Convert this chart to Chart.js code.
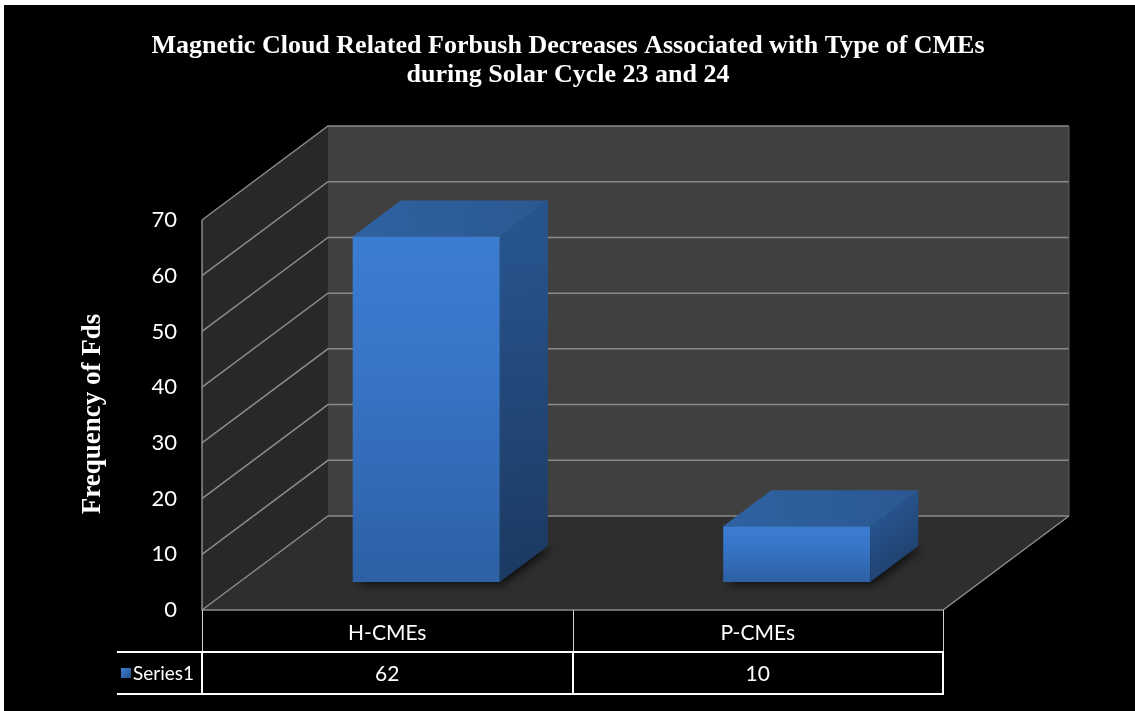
<!DOCTYPE html>
<html>
<head>
<meta charset="utf-8">
<script src="https://cdn.jsdelivr.net/npm/chart.js@4.4.1/dist/chart.umd.min.js"></script>
<style>
  html, body { margin: 0; padding: 0; background: #ffffff; }
  #wrap { width: 1135px; height: 711px; position: relative; }
</style>
</head>
<body>
<div id="wrap"><canvas id="c" width="1135" height="711"></canvas></div>
<script>
// ---- data ----
const categories = ['H-CMEs', 'P-CMEs'];
const seriesName = 'Series1';
const fdCounts = [62, 10];
const yTicks = [0, 10, 20, 30, 40, 50, 60, 70];
const titleLines = [
  'Magnetic Cloud Related Forbush Decreases Associated with Type of CMEs',
  'during Solar Cycle 23 and 24'
];
const yAxisTitle = 'Frequency of Fds';

// ---- 3D projection offsets (oblique) ----
const WALL = { dx: 126, dy: -94 };      // front plane -> back wall
const BAR_FRONT = { dx: 39, dy: -28 };  // front plane -> bar front face
const BAR_DEPTH = { dx: 48, dy: -36 };  // bar front face -> bar back face

const GRID_COLOR = '#8a8a8a';
const TICK_FONT = 'Lato, "Open Sans", sans-serif';
const SERIF = '"Liberation Serif", "Times New Roman", serif';

function poly(ctx, pts) {
  ctx.beginPath();
  ctx.moveTo(pts[0][0], pts[0][1]);
  for (let i = 1; i < pts.length; i++) ctx.lineTo(pts[i][0], pts[i][1]);
  ctx.closePath();
}

function barBoxes(chart) {
  const meta = chart.getDatasetMeta(0);
  return meta.data.map(el => {
    const p = el.getProps(['x', 'y', 'base', 'width'], true);
    const x0 = p.x - p.width / 2 + BAR_FRONT.dx;
    const x1 = p.x + p.width / 2 + BAR_FRONT.dx;
    const yt = p.y + BAR_FRONT.dy;
    const yb = p.base + BAR_FRONT.dy;
    return { x0, x1, yt, yb };
  });
}

const scene3d = {
  id: 'scene3d',
  beforeDraw(chart) {
    const ctx = chart.ctx;
    ctx.save();
    ctx.fillStyle = '#ffffff';
    ctx.fillRect(0, 0, chart.width, chart.height);
    ctx.fillStyle = '#000000';
    ctx.fillRect(4, 5, chart.width - 4, chart.height - 5);

    // chart title
    ctx.fillStyle = '#ffffff';
    ctx.font = 'bold 26px ' + SERIF;
    ctx.textAlign = 'center';
    ctx.textBaseline = 'alphabetic';
    ctx.fillText(titleLines[0], 568, 53);
    ctx.fillText(titleLines[1], 568, 82);

    // value axis title
    ctx.save();
    ctx.font = 'bold 27px ' + SERIF;
    ctx.translate(100, 414);
    ctx.rotate(-Math.PI / 2);
    ctx.fillText(yAxisTitle, 0, 0);
    ctx.restore();
    ctx.restore();
  },
  beforeDatasetsDraw(chart) {
    const ctx = chart.ctx;
    const a = chart.chartArea;
    const ys = chart.scales.y;
    const top = ys.getPixelForValue(ys.max);
    const bot = ys.getPixelForValue(ys.min);
    ctx.save();

    // side wall
    ctx.fillStyle = '#282828';
    poly(ctx, [[a.left, top], [a.left + WALL.dx, top + WALL.dy], [a.left + WALL.dx, bot + WALL.dy], [a.left, bot]]);
    ctx.fill();
    // back wall
    ctx.fillStyle = '#404040';
    ctx.fillRect(a.left + WALL.dx, top + WALL.dy, a.right - a.left, bot - top);
    // floor
    ctx.fillStyle = '#2e2e2e';
    poly(ctx, [[a.left, bot], [a.left + WALL.dx, bot + WALL.dy], [a.right + WALL.dx, bot + WALL.dy], [a.right, bot]]);
    ctx.fill();

    // gridlines on side and back walls
    ctx.strokeStyle = GRID_COLOR;
    ctx.lineWidth = 1.5;
    yTicks.forEach(v => {
      const py = ys.getPixelForValue(v);
      ctx.beginPath();
      ctx.moveTo(a.left, py);
      ctx.lineTo(a.left + WALL.dx, py + WALL.dy);
      ctx.lineTo(a.right + WALL.dx, py + WALL.dy);
      ctx.stroke();
    });
    // wall edges
    ctx.beginPath();
    ctx.moveTo(a.left, top);
    ctx.lineTo(a.left, bot);
    ctx.lineTo(a.right, bot);
    ctx.lineTo(a.right + WALL.dx, bot + WALL.dy);
    ctx.stroke();
    ctx.strokeStyle = '#5a5a5a';
    ctx.lineWidth = 1;
    ctx.beginPath();
    ctx.moveTo(a.right + WALL.dx, top + WALL.dy);
    ctx.lineTo(a.right + WALL.dx, bot + WALL.dy);
    ctx.stroke();

    // soft shadows on the floor
    barBoxes(chart).forEach(b => {
      ctx.save();
      ctx.shadowColor = 'rgba(0,0,0,0.85)';
      ctx.shadowBlur = 10;
      ctx.shadowOffsetX = 3;
      ctx.shadowOffsetY = 2;
      ctx.fillStyle = 'rgba(20,20,20,0.9)';
      poly(ctx, [[b.x0, b.yb], [b.x1, b.yb], [b.x1 + BAR_DEPTH.dx, b.yb + BAR_DEPTH.dy],
                 [b.x0 + BAR_DEPTH.dx, b.yb + BAR_DEPTH.dy]]);
      ctx.fill();
      ctx.restore();
    });
    ctx.restore();
  },
  beforeDatasetDraw(chart) {
    chart.ctx.save();
    chart.ctx.translate(BAR_FRONT.dx, BAR_FRONT.dy);
  },
  afterDatasetDraw(chart) {
    chart.ctx.restore();
  },
  afterDatasetsDraw(chart) {
    const ctx = chart.ctx;
    ctx.save();
    barBoxes(chart).forEach(b => {
      const d = BAR_DEPTH;
      // top face
      const gt = ctx.createLinearGradient(b.x0, b.yt, b.x1 + d.dx, b.yt + d.dy);
      gt.addColorStop(0, '#2f62a2');
      gt.addColorStop(1, '#2a5892');
      ctx.fillStyle = gt;
      poly(ctx, [[b.x0, b.yt], [b.x1, b.yt], [b.x1 + d.dx, b.yt + d.dy], [b.x0 + d.dx, b.yt + d.dy]]);
      ctx.fill();
      // side face
      const gs = ctx.createLinearGradient(b.x1, b.yt, b.x1 + d.dx, b.yb);
      gs.addColorStop(0, '#27548e');
      gs.addColorStop(1, '#1b3960');
      ctx.fillStyle = gs;
      poly(ctx, [[b.x1, b.yt], [b.x1 + d.dx, b.yt + d.dy], [b.x1 + d.dx, b.yb + d.dy], [b.x1, b.yb]]);
      ctx.fill();
    });
    ctx.restore();
  },
  afterDraw(chart) {
    const ctx = chart.ctx;
    const a = chart.chartArea;
    const xs = chart.scales.x;
    const ys = chart.scales.y;
    const bot = ys.getPixelForValue(ys.min);
    const rowH = 42;
    const r1 = bot, r2 = bot + rowH, r3 = bot + 2 * rowH;
    const half = (xs.getPixelForValue(1) - xs.getPixelForValue(0)) / 2;
    const bounds = [a.left];
    categories.forEach((c, i) => bounds.push(xs.getPixelForValue(i) + half));

    // legend key and series name geometry
    ctx.save();
    ctx.font = '19px ' + TICK_FONT;
    const textRight = a.left - 8;
    const tw = ctx.measureText(seriesName).width;
    const kx = textRight - tw - 12, ky = (r2 + r3) / 2 - 5;
    const legendLeft = kx - 4;

    // header row dividers
    ctx.strokeStyle = '#d0d0d0';
    ctx.lineWidth = 1;
    bounds.forEach(x => {
      ctx.beginPath();
      ctx.moveTo(Math.round(x) + 0.5, r1);
      ctx.lineTo(Math.round(x) + 0.5, r2);
      ctx.stroke();
    });
    // values row grid
    ctx.strokeStyle = '#ffffff';
    ctx.lineWidth = 2;
    ctx.beginPath();
    ctx.moveTo(legendLeft, r2); ctx.lineTo(bounds[bounds.length - 1] + 1, r2);
    ctx.moveTo(legendLeft, r3); ctx.lineTo(bounds[bounds.length - 1] + 1, r3);
    bounds.forEach(x => { ctx.moveTo(Math.round(x), r2); ctx.lineTo(Math.round(x), r3); });
    ctx.stroke();

    // legend key
    const gk = ctx.createLinearGradient(kx, ky, kx + 10, ky + 10);
    gk.addColorStop(0, '#3d80d6');
    gk.addColorStop(1, '#24508a');
    ctx.fillStyle = gk;
    ctx.fillRect(kx, ky, 10, 10);

    ctx.fillStyle = '#ffffff';
    ctx.textAlign = 'right';
    ctx.textBaseline = 'middle';
    ctx.fillText(seriesName, textRight, (r2 + r3) / 2 + 1);

    // category and value cells
    ctx.font = '21px ' + TICK_FONT;
    ctx.textAlign = 'center';
    categories.forEach((c, i) => {
      const cx = xs.getPixelForValue(i);
      ctx.fillText(c, cx, (r1 + r2) / 2 + 2);
      ctx.fillText(String(fdCounts[i]), cx, (r2 + r3) / 2 + 1);
    });
    ctx.restore();
  }
};

const chart = new Chart(document.getElementById('c'), {
  type: 'bar',
  data: {
    labels: categories,
    datasets: [{
      label: seriesName,
      data: fdCounts,
      borderWidth: 0,
      categoryPercentage: 1,
      barPercentage: 0.397,
      backgroundColor(ctx) {
        const ch = ctx.chart;
        const ys = ch.scales.y;
        if (!ys || !ch.chartArea) return '#3874c4';
        const yt = ys.getPixelForValue(ctx.raw);
        const yb = ys.getPixelForValue(0);
        const g = ch.ctx.createLinearGradient(0, yt, 0, yb);
        g.addColorStop(0, '#3b7dd3');
        g.addColorStop(0.4, '#3774c6');
        g.addColorStop(1, '#2d60a4');
        return g;
      }
    }]
  },
  options: {
    responsive: false,
    animation: false,
    devicePixelRatio: 1,
    layout: { padding: { left: 0, top: 220, right: 192, bottom: 0 } },
    plugins: {
      legend: { display: false },
      title: { display: false },
      tooltip: { enabled: false }
    },
    scales: {
      x: {
        type: 'category',
        offset: true,
        grid: { display: false },
        border: { display: false },
        ticks: { display: false },
        afterFit(scale) { scale.height = 101; }
      },
      y: {
        min: 0,
        max: 70,
        grid: { display: false, drawTicks: false },
        border: { display: false },
        ticks: {
          stepSize: 10,
          padding: 25,
          color: '#ffffff',
          font: { family: TICK_FONT, size: 22 }
        },
        afterFit(scale) { scale.width = 202; }
      }
    }
  },
  plugins: [scene3d]
});
</script>
</body>
</html>
